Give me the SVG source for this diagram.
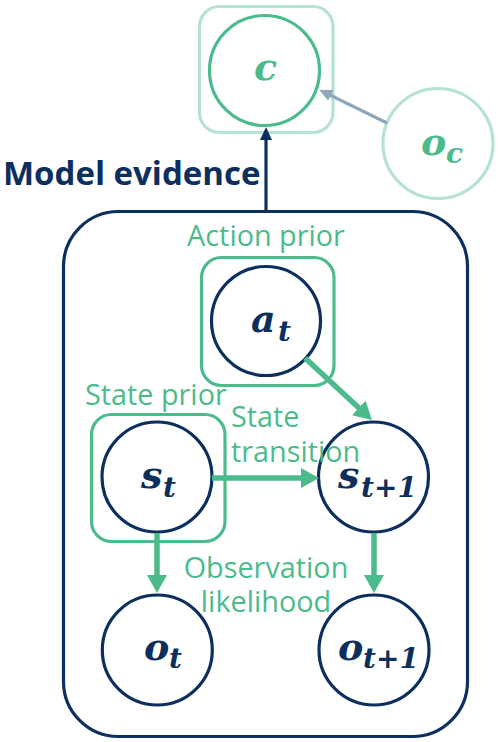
<svg xmlns="http://www.w3.org/2000/svg" width="498" height="742" viewBox="0 0 498 742">
<style>
.navy{fill:none;stroke:#0c2f5e;stroke-width:3.2}
.node{fill:#ffffff;stroke:#0c2f5e;stroke-width:3.2}
.frame{fill:none;stroke:#4cbb8c;stroke-width:3.2}
.lframe{fill:none;stroke:#b5e3d0;stroke-width:3.2}
.gline{stroke:#4cbb8c;stroke-width:5.5;fill:none}
.lbl{font-family:"Open Sans","Noto Sans",sans-serif;font-size:28.8px;fill:#4cbb8c}
.math{font-family:"DejaVu Serif",serif;font-weight:bold;font-style:italic;font-size:38px;fill:#0c2f5e}
.sub{font-size:28px}
.gm{fill:#4cbb8c}
</style>
<defs>
<marker id="gh" markerUnits="userSpaceOnUse" markerWidth="20" markerHeight="22" refX="1" refY="10" orient="auto">
<path d="M0,0 L18,10 L0,20 z" fill="#4cbb8c"/>
</marker>
<marker id="nh" markerUnits="userSpaceOnUse" markerWidth="14" markerHeight="14" refX="1" refY="6" orient="auto">
<path d="M0,0 L13,6 L0,12 z" fill="#0c2f5e"/>
</marker>
<marker id="bh" markerUnits="userSpaceOnUse" markerWidth="14" markerHeight="14" refX="1" refY="6" orient="auto">
<path d="M0,0 L13,6 L0,12 z" fill="#8fa6bb"/>
</marker>
</defs>
<rect width="498" height="742" fill="#ffffff"/>

<g id="model-box">
<rect x="63.5" y="211.5" width="404" height="525" rx="55" ry="55" class="navy"/>
</g>

<g id="node-c">
<rect x="199.5" y="6.5" width="133.5" height="126" rx="20" ry="20" class="lframe"/>
<circle cx="264.5" cy="70.5" r="55" fill="#ffffff" stroke="#4cbb8c" stroke-width="3.2"/>
<text class="math gm" x="254" y="80">c</text>
</g>

<g id="node-oc">
<circle cx="438" cy="143.5" r="55" fill="#ffffff" stroke="#b5e3d0" stroke-width="3.2"/>
<text class="math gm" x="421" y="155">o<tspan class="sub" x="446" y="163">c</tspan></text>
</g>

<g id="node-at">
<rect x="201.5" y="257.5" width="132.5" height="128" rx="20" ry="20" class="frame"/>
<circle cx="266" cy="321" r="54.5" class="node"/>
</g>

<g id="node-st">
<rect x="91.5" y="414.5" width="133.5" height="127" rx="20" ry="20" class="frame"/>
<circle cx="157" cy="477" r="55" class="node"/>
</g>

<g id="node-st1">
<circle cx="373.5" cy="477" r="55" class="node"/>
</g>

<g id="node-ot">
<circle cx="157.3" cy="650" r="55" class="node"/>
</g>

<g id="node-ot1">
<circle cx="374" cy="650" r="55" class="node"/>
</g>

<g id="connectors">
<line x1="266" y1="211" x2="266" y2="139" stroke="#0c2f5e" stroke-width="3.2" marker-end="url(#nh)"/>
<line x1="387" y1="123" x2="330" y2="95" stroke="#8fa6bb" stroke-width="3.2" marker-end="url(#bh)"/>
<line x1="305" y1="358" x2="359.5" y2="408.5" class="gline" marker-end="url(#gh)"/>
<line x1="212" y1="478" x2="302" y2="478" class="gline" marker-end="url(#gh)"/>
<line x1="157" y1="533" x2="157" y2="576" class="gline" marker-end="url(#gh)"/>
<line x1="374" y1="533" x2="374" y2="576" class="gline" marker-end="url(#gh)"/>
</g>

<g id="labels">
<text x="3" y="185" font-family="'Open Sans','Noto Sans',sans-serif" font-weight="bold" font-size="33" fill="#0c2f5e">Model evidence</text>
<text class="lbl" x="266" y="246" text-anchor="middle">Action prior</text>
<text class="lbl" x="85" y="405">State prior</text>
<text class="lbl" x="231" y="427">State</text>
<text class="lbl" x="231" y="462">transition</text>
<text class="lbl" x="266" y="578" text-anchor="middle">Observation</text>
<text class="lbl" x="266" y="612" text-anchor="middle">likelihood</text>
</g>

<g id="math-labels">
<text class="math" x="251" y="332">a<tspan class="sub" x="278" y="341">t</tspan></text>
<text class="math" x="141" y="488">s<tspan class="sub" x="163" y="497">t</tspan></text>
<text class="math" x="338" y="488">s<tspan class="sub" x="361" y="497">t+1</tspan></text>
<text class="math" x="144" y="660">o<tspan class="sub" x="169" y="668">t</tspan></text>
<text class="math" x="338" y="660">o<tspan class="sub" x="363" y="668">t+1</tspan></text>
</g>
</svg>
